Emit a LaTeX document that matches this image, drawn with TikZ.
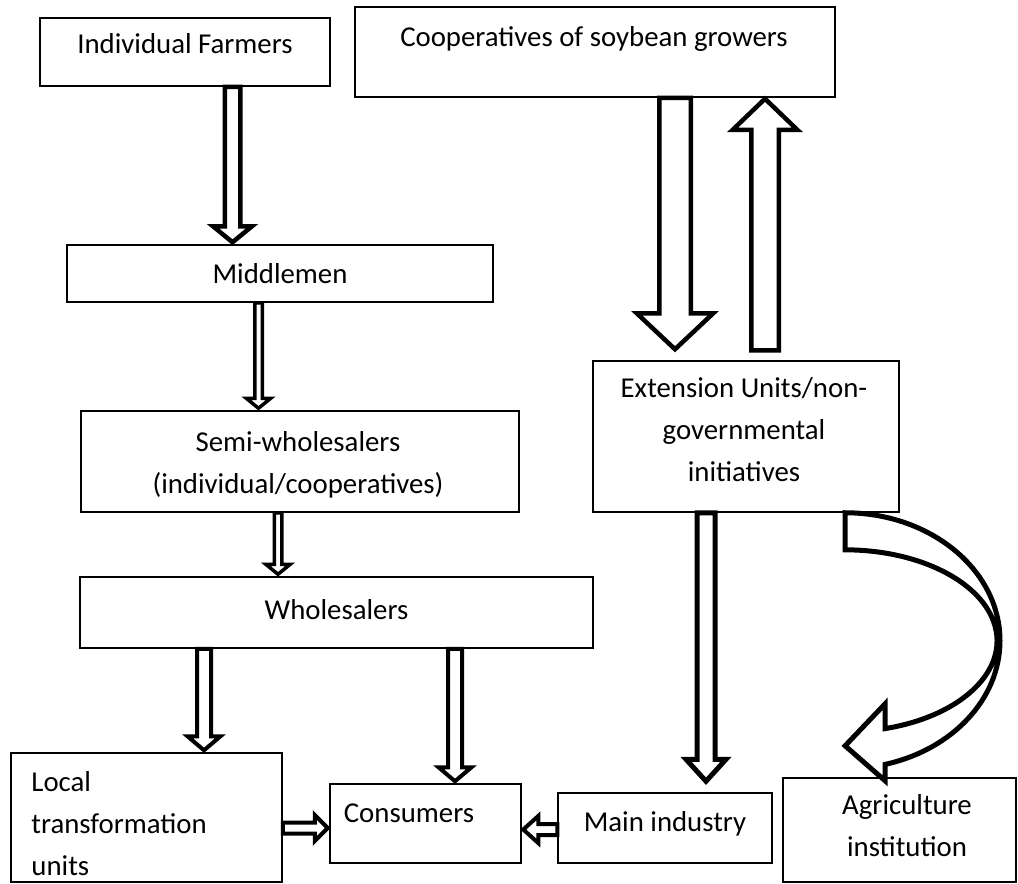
\documentclass[tikz,border=0pt]{standalone}
\usepackage{fontspec}
\setmainfont{Carlito}
\usetikzlibrary{calc}
\newcommand\txtlines[2][c]{\begin{tabular}[t]{@{}#1@{}}#2\end{tabular}}
% #1 line width, #2 from, #3 to, #4 half shaft, #5 half head, #6 head length
\newcommand\blockarrow[6]{%
  \coordinate (ba-s) at #2;
  \coordinate (ba-e) at #3;
  \coordinate (ba-b) at ($(ba-e)!#6!(ba-s)$);
  \draw[blk=#1] ($(ba-s)!#4!90:(ba-e)$) -- ($(ba-b)!#4!-90:(ba-s)$) -- ($(ba-b)!#5!-90:(ba-s)$)
    -- (ba-e) -- ($(ba-b)!#5!90:(ba-s)$) -- ($(ba-b)!#4!90:(ba-s)$) -- ($(ba-s)!#4!-90:(ba-e)$) -- cycle;
}
\begin{document}
\begin{tikzpicture}[x=1pt,y=-1pt,
  box/.style={draw,line width=1.5pt,inner sep=0pt},
  txt/.style={inner sep=0pt,anchor=base,font=\fontsize{28.8}{42}\selectfont},
  blk/.style={draw,line width=#1,fill=white,line join=miter,miter limit=10},
]
\useasboundingbox (0,0) rectangle (1018,884);
\clip (0,0) rectangle (1018,884);

% boxes
\node[box,minimum width=290pt,minimum height=68pt] (if) at (185,52) {};
\node[box,minimum width=480pt,minimum height=90pt] (coop) at (595,52) {};
\node[box,minimum width=426pt,minimum height=57pt] (mid) at (280,273.5) {};
\node[box,minimum width=438pt,minimum height=101pt] (semi) at (300,461.5) {};
\node[box,minimum width=513pt,minimum height=71pt] (whol) at (336.5,612.5) {};
\node[box,minimum width=306pt,minimum height=151pt] (ext) at (746,436.5) {};
\node[box,minimum width=271pt,minimum height=129pt] (local) at (146.5,817.5) {};
\node[box,minimum width=191pt,minimum height=79pt] (cons) at (425.5,823.5) {};
\node[box,minimum width=214pt,minimum height=70pt] (main) at (665,828) {};
\node[box,minimum width=233pt,minimum height=104pt] (agri) at (899.5,830) {};

% texts
\node[txt] at ($(if.north)+(0,36)$) {Individual Farmers};
\node[txt] at ($(coop.north)+(-1,40)$) {Cooperatives of soybean growers};
\node[txt] at ($(mid.north)+(0,39)$) {Middlemen};
\node[txt] at ($(semi.north)+(-2,41)$) {\txtlines{Semi-wholesalers\\(individual/cooperatives)}};
\node[txt] at ($(whol.north)+(0,43)$) {Wholesalers};
\node[txt] at ($(ext.north)+(-2,37)$) {\txtlines{Extension Units/non-\\governmental\\initiatives}};
\node[txt,anchor=base west] at ($(local.north west)+(21,39)$) {\txtlines[l]{Local\\transformation\\units}};
\node[txt] at ($(cons.north)+(-16.5,39)$) {Consumers};
\node[txt] at ($(main.north)+(0,39)$) {Main industry};
\node[txt] at ($(agri.north)+(7.5,37)$) {\txtlines{Agriculture\\institution}};

% column / row guides for the block arrows
\coordinate (c1) at (232.5,0);
\coordinate (c2) at (258.5,0);
\coordinate (c3) at (278,0);
\coordinate (c4) at (204,0);
\coordinate (c5) at (455,0);
\coordinate (c6) at (675,0);
\coordinate (c7) at (765,0);
\coordinate (c8) at (706,0);
\coordinate (r1) at (0,828);
\coordinate (r2) at (0,829.5);

% block arrows
\blockarrow{4.5pt}{(if.south -| c1)}{($(mid.north -| c1)+(0,-2)$)}{7.75pt}{19.5pt}{16pt}
\blockarrow{3.5pt}{(mid.south -| c2)}{($(semi.north -| c2)+(0,-2)$)}{3.75pt}{12.25pt}{10pt}
\blockarrow{3.5pt}{(semi.south -| c3)}{($(whol.north -| c3)+(0,-2)$)}{3.75pt}{12.25pt}{10pt}
\blockarrow{4pt}{(whol.south -| c4)}{($(local.north -| c4)+(0,-2)$)}{7pt}{16.5pt}{14pt}
\blockarrow{4pt}{(whol.south -| c5)}{($(cons.north -| c5)+(0,-2)$)}{7pt}{16.5pt}{14pt}
\blockarrow{4pt}{(local.east |- r1)}{($(cons.west |- r1)+(-1.5,0)$)}{5.5pt}{13pt}{13pt}
\blockarrow{4pt}{(main.west |- r2)}{($(cons.east |- r2)+(1.5,0)$)}{5.5pt}{13.5pt}{15pt}
\blockarrow{4.5pt}{(coop.south -| c6)}{($(ext.north -| c6)+(0,-11)$)}{15.75pt}{38.25pt}{36pt}
\blockarrow{4.5pt}{($(ext.north -| c7)+(0,-10)$)}{($(coop.south -| c7)+(0,1)$)}{13.75pt}{32.25pt}{31pt}
\blockarrow{5pt}{(ext.south -| c8)}{($(main.north -| c8)+(0,-11)$)}{9pt}{20pt}{22pt}

% curved block arrow from extension units to agriculture institution
\coordinate (ca) at ($(ext.south)+(99,0)$);
\draw[blk=5pt] (ca) arc[start angle=-90,end angle=75,x radius=155,y radius=128]
  -- ++(0,16.4) -- ++(-40,-35) -- ++(40,-42) -- ++(0,24.8)
  arc[start angle=74.7,end angle=-90,x radius=152,y radius=91] -- cycle;
\end{tikzpicture}
\end{document}
